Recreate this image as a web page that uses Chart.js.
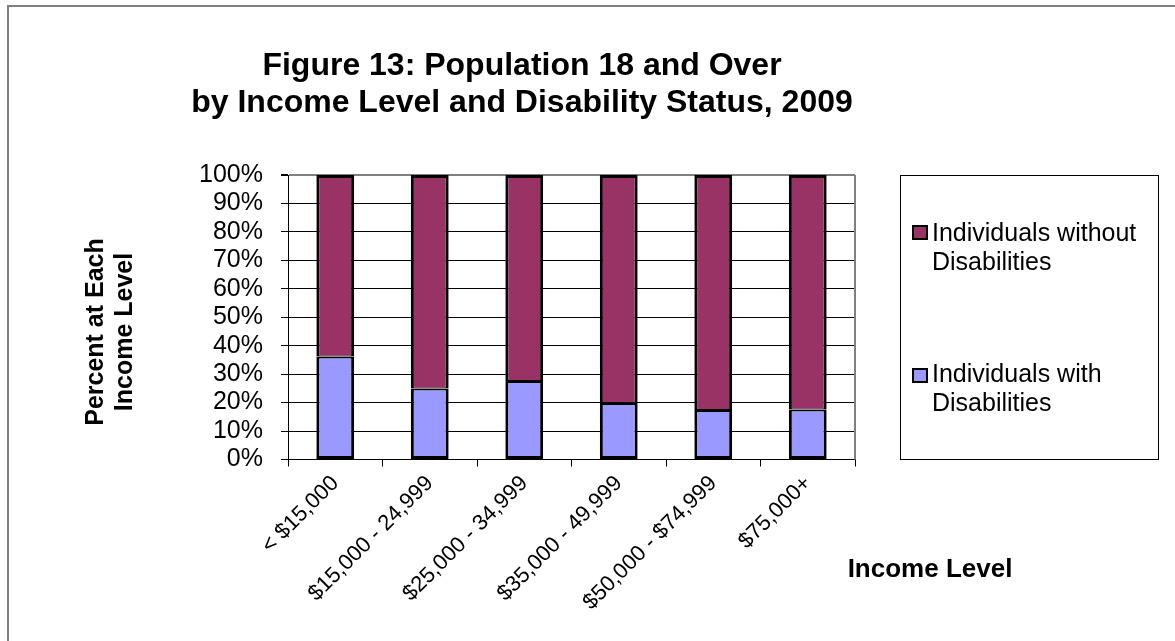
<!DOCTYPE html>
<html><head><meta charset="utf-8">
<script src="https://cdn.jsdelivr.net/npm/chart.js@4.4.0/dist/chart.umd.min.js"></script>
<style>html,body{margin:0;padding:0;background:#fff}#wrap{width:1175px;height:641px;position:relative}</style>
</head><body><div id="wrap"><canvas id="c" width="1175" height="641"></canvas></div>
<script>
const categories = ['< $15,000', '$15,000 - 24,999', '$25,000 - 34,999', '$35,000 - 49,999', '$50,000 - $74,999', '$75,000+'];
const withDisabilities = [36.2, 25.0, 27.6, 19.9, 17.4, 17.6];
const withoutDisabilities = [63.8, 75.0, 72.4, 80.1, 82.6, 82.4];
const yTickValues = [0, 10, 20, 30, 40, 50, 60, 70, 80, 90, 100];
const titleLines = ['Figure 13: Population 18 and Over', 'by Income Level and Disability Status, 2009'];
const yTitleLines = ['Percent at Each', 'Income Level'];
const xTitleText = 'Income Level';
const withLabel = ['Individuals with', 'Disabilities'];
const withoutLabel = ['Individuals without', 'Disabilities'];
const colorWith = '#9999FF';
const colorWithout = '#993366';

const FONT = '"Liberation Sans", Arial, sans-serif';

const decor = {
  id: 'decor',
  beforeDraw(chart) {
    const ctx = chart.ctx;
    ctx.save();
    ctx.fillStyle = '#fff';
    ctx.fillRect(0, 0, chart.width, chart.height);
    ctx.fillStyle = '#808080';
    ctx.fillRect(7, 5, chart.width - 7, 2);
    ctx.fillRect(7, 5, 2, chart.height - 5);
    ctx.restore();
  },
  beforeDatasetsDraw(chart) {
    const ctx = chart.ctx, a = chart.chartArea;
    ctx.save();
    ctx.fillStyle = '#808080';
    ctx.fillRect(a.right - 1, a.top, 2, a.bottom - a.top);
    ctx.restore();
  },
  afterDraw(chart) {
    const ctx = chart.ctx;
    ctx.save();
    ctx.fillStyle = '#000';
    ctx.font = 'bold 32px ' + FONT;
    ctx.textAlign = 'center';
    ctx.textBaseline = 'alphabetic';
    ctx.fillText(titleLines[0], 522, 75);
    ctx.fillText(titleLines[1], 522, 112);
    ctx.font = 'bold 25px ' + FONT;
    ctx.save();
    ctx.translate(103, 332);
    ctx.rotate(-Math.PI / 2);
    ctx.fillText(yTitleLines[0], 0, 0);
    ctx.fillText(yTitleLines[1], 0, 29);
    ctx.restore();
    ctx.font = 'bold 26px ' + FONT;
    ctx.fillText(xTitleText, 930, 577);
    ctx.strokeStyle = '#000';
    ctx.lineWidth = 1;
    ctx.strokeRect(900.5, 175.5, 258, 284);
    const items = [
      {label: chart.data.datasets[1].label, color: chart.data.datasets[1].backgroundColor, my: 225, b: 241},
      {label: chart.data.datasets[0].label, color: chart.data.datasets[0].backgroundColor, my: 368, b: 382}
    ];
    ctx.font = '25px ' + FONT;
    ctx.textAlign = 'left';
    items.forEach(it => {
      ctx.fillStyle = '#000';
      ctx.fillRect(912, it.my, 16, 15);
      ctx.fillStyle = it.color;
      ctx.fillRect(914, it.my + 2, 12, 11);
      ctx.fillStyle = '#000';
      it.label.forEach((t, i) => ctx.fillText(t, 932, it.b + i * 29));
    });
    ctx.restore();
  }
};

new Chart(document.getElementById('c'), {
  type: 'bar',
  data: {
    labels: categories,
    datasets: [
      {label: withLabel, data: withDisabilities, backgroundColor: colorWith, borderColor: '#000',
       borderWidth: {left: 3, right: 3, bottom: 3, top: 2}, borderSkipped: false},
      {label: withoutLabel, data: withoutDisabilities, backgroundColor: colorWithout, borderColor: '#000',
       borderWidth: {left: 3, right: 3, bottom: 1, top: 3}, borderSkipped: false}
    ]
  },
  options: {
    responsive: false,
    animation: false,
    devicePixelRatio: 1,
    layout: {padding: {left: 0, top: 175, right: 320, bottom: 0}},
    datasets: {bar: {barPercentage: 0.4, categoryPercentage: 1}},
    plugins: {legend: {display: false}, title: {display: false}, tooltip: {enabled: false}},
    scales: {
      x: {
        stacked: true,
        afterFit: s => { s.height = 181.5; },
        grid: {display: true, drawOnChartArea: false, drawTicks: true, tickLength: 7, color: '#000', offset: true},
        border: {color: '#000', width: 1},
        ticks: {font: {family: FONT, size: 22}, color: '#000', minRotation: 45, maxRotation: 45, autoSkip: false, padding: 4}
      },
      y: {
        stacked: true,
        min: 0, max: 100,
        afterFit: s => { s.width = 288; },
        afterBuildTicks: s => { s.ticks = yTickValues.map(v => ({value: v})); },
        grid: {color: c => (c.tick && c.tick.value === 100 ? '#808080' : '#000'),
               lineWidth: c => (c.tick && c.tick.value === 100 ? 2 : 1),
               tickColor: '#000', tickLength: 7, drawTicks: true},
        border: {color: '#000', width: 1},
        ticks: {font: {family: FONT, size: 25}, color: '#000', padding: 18, autoSkip: false, callback: v => v + '%'}
      }
    }
  },
  plugins: [decor]
});
</script>
</body></html>
